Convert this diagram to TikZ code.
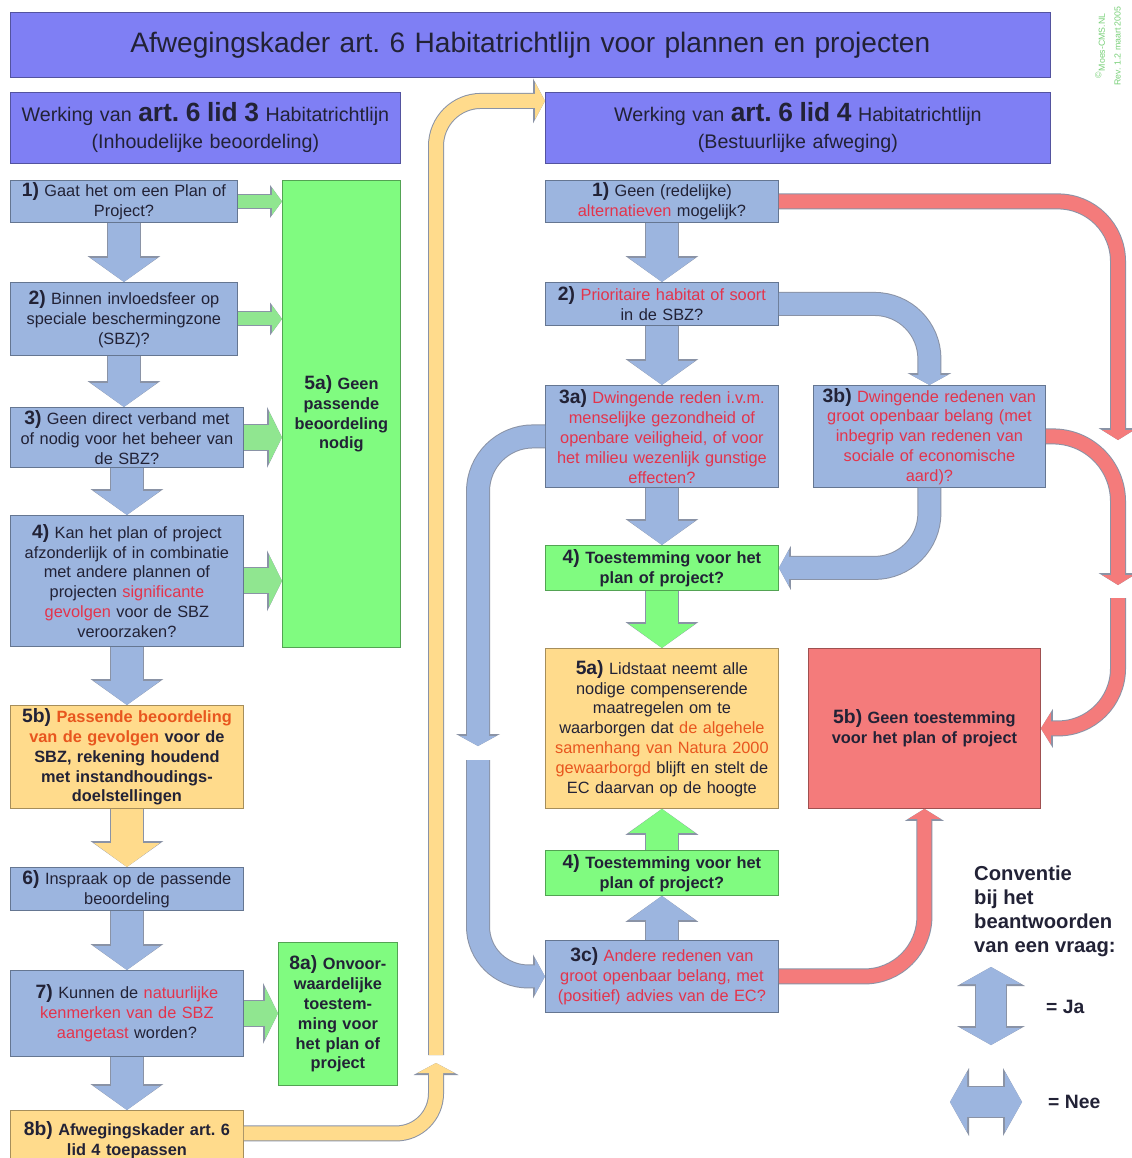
\documentclass[tikz,border=0pt]{standalone}
\usepackage{fontspec}
\setmainfont{Liberation Sans}
\usetikzlibrary{arrows.meta,calc,positioning}
\frenchspacing
\definecolor{Paars}{HTML}{7F7FF4}
\definecolor{Blauw}{HTML}{9CB5DF}
\definecolor{Groen}{HTML}{80FB80}
\definecolor{GroenPijl}{HTML}{90E690}
\definecolor{Geel}{HTML}{FFDB8C}
\definecolor{Rood}{HTML}{F47B7B}
\definecolor{Inkt}{HTML}{222236}
\definecolor{Warn}{HTML}{E3344C}
\definecolor{Oranje}{HTML}{E8561E}
\definecolor{Rand}{HTML}{8A93A6}
\definecolor{Stempel}{HTML}{78D078}
\newcommand{\stap}[1]{{\fontsize{11}{11}\selectfont\bfseries #1}}
\newcommand{\artlid}[1]{{\fontsize{15}{15}\selectfont\bfseries art. 6 lid #1}}
\newcommand{\rd}[1]{\textcolor{Warn}{#1}}
\newcommand{\oranje}[1]{\textcolor{Oranje}{#1}}

\begin{document}
\begin{tikzpicture}[
    x=0.02cm, y=-0.02cm,
    box/.style={
      draw=#1!65!black, fill=#1, line width=0.5pt, anchor=north west,
      inner xsep=0pt, inner ysep=1pt, align=center, text=Inkt,
      font=\fontsize{9.3}{11.3}\selectfont
    },
    wh/.style 2 args={text width=#1, minimum height=#2},
    pijl/.style={
      draw=#1, line width=0.64cm,
      preaction={draw=Rand, line width=0.68cm,
        -{Triangle[length=0.52cm,width=1.46cm,line width=0pt]}},
      -{Triangle[length=0.48cm,width=1.32cm,line width=0pt]}
    },
    zij/.style={
      draw=GroenPijl, line width=0.26cm,
      preaction={draw=Rand, line width=0.3cm,
        -{Triangle[length=0.24cm,width=0.66cm,line width=0pt]}},
      -{Triangle[length=0.2cm,width=0.54cm,line width=0pt]}
    },
    zijbreed/.style={
      draw=GroenPijl, line width=0.5cm,
      preaction={draw=Rand, line width=0.54cm,
        -{Triangle[length=0.3cm,width=1.22cm,line width=0pt]}},
      -{Triangle[length=0.26cm,width=1.04cm,line width=0pt]}
    },
    blauwbuis/.style={
      draw=Blauw, line width=0.44cm, rounded corners=1.1cm,
      preaction={draw=Rand, line width=0.48cm,
        -{Triangle[length=0.24cm,width=0.88cm,line width=0pt]}},
      -{Triangle[length=0.2cm,width=0.72cm,line width=0pt]}
    },
    roodbuis/.style={
      draw=Rood, line width=0.28cm, rounded corners=1.2cm,
      preaction={draw=Rand, line width=0.32cm,
        -{Triangle[length=0.24cm,width=0.78cm,line width=0pt]}},
      -{Triangle[length=0.2cm,width=0.64cm,line width=0pt]}
    },
    geelbuis/.style={
      draw=Geel, line width=0.28cm, rounded corners=0.8cm,
      preaction={draw=Rand, line width=0.32cm,
        -{Triangle[length=0.24cm,width=0.9cm,line width=0pt]}},
      -{Triangle[length=0.2cm,width=0.74cm,line width=0pt]}
    },
    dubbel/.style={
      draw=Blauw, line width=0.6cm,
      preaction={draw=Rand, line width=0.64cm,
        {Triangle[length=0.38cm,width=1.36cm,line width=0pt]}-{Triangle[length=0.38cm,width=1.36cm,line width=0pt]}},
      {Triangle[length=0.34cm,width=1.2cm,line width=0pt]}-{Triangle[length=0.34cm,width=1.2cm,line width=0pt]}
    }
  ]
  \fill[white] (0,0) rectangle (1131,1158);
  \useasboundingbox (0,0) rectangle (1131,1158);

  \node[box=Paars, wh={20.8cm}{1.3cm}, font=\fontsize{16}{18}\selectfont] (titel) at (10,12)
    {Afwegingskader art. 6 Habitatrichtlijn voor plannen en projecten};
  \node[rotate=90, text=Stempel, align=center, font=\fontsize{5}{9}\selectfont] (stempel) at (1108,46)
    {\textsuperscript{©}Moes-CMS.NL\\Rev. 1.2 maart 2005};

  \node[box=Paars, wh={7.8cm}{1.42cm}, font=\fontsize{11.2}{15.3}\selectfont] (kopL) at (10,92)
    {Werking van \artlid{3} Habitatrichtlijn\\(Inhoudelijke beoordeling)};
  \node[box=Paars, wh={10.1cm}{1.42cm}, font=\fontsize{11.2}{15.3}\selectfont] (kopR) at (545,92)
    {Werking van \artlid{4} Habitatrichtlijn\\(Bestuurlijke afweging)};

  \node[box=Blauw, wh={4.54cm}{0.84cm}] (l1) at (10,180)
    {\stap{1)} Gaat het om een Plan of\\Project?};
  \node[box=Blauw, wh={4.54cm}{1.46cm}] (l2) at (10,282)
    {\stap{2)} Binnen invloedsfeer op\\speciale beschermingzone\\(SBZ)?};
  \node[box=Blauw, wh={4.66cm}{1.2cm}] (l3) at (10,407)
    {\stap{3)} Geen direct verband met\\of nodig voor het beheer van\\de SBZ?};
  \node[box=Blauw, wh={4.66cm}{2.62cm}] (l4) at (10,515)
    {\stap{4)} Kan het plan of project\\afzonderlijk of in combinatie\\met andere plannen of\\projecten \rd{significante}\\\rd{gevolgen} voor de SBZ\\veroorzaken?};
  \node[box=Geel, wh={4.66cm}{2.06cm}, font=\fontsize{9.3}{11.3}\selectfont\bfseries] (l5b) at (10,705)
    {\stap{5b)} \oranje{Passende beoordeling}\\\oranje{van de gevolgen} voor de\\SBZ, rekening houdend\\met instandhoudings-\\doelstellingen};
  \node[box=Blauw, wh={4.66cm}{0.86cm}] (l6) at (10,867)
    {\stap{6)} Inspraak op de passende\\beoordeling};
  \node[box=Blauw, wh={4.66cm}{1.72cm}] (l7) at (10,970)
    {\stap{7)} Kunnen de \rd{natuurlijke}\\\rd{kenmerken van de SBZ}\\\rd{aangetast} worden?};
  \node[box=Geel, wh={4.66cm}{1.2cm}, font=\fontsize{9.3}{11.3}\selectfont\bfseries] (l8b) at (10,1110)
    {\stap{8b)} Afwegingskader art. 6\\lid 4 toepassen};
  \node[box=Groen, wh={2.36cm}{9.34cm}, font=\fontsize{9.3}{11.3}\selectfont\bfseries] (l5a) at (282,180)
    {\stap{5a)} Geen\\passende\\beoordeling\\nodig};
  \node[box=Groen, wh={2.38cm}{2.86cm}, font=\fontsize{9.3}{11.3}\selectfont\bfseries] (l8a) at (278,942)
    {\stap{8a)} Onvoor-\\waardelijke\\toestem-\\ming voor\\het plan of\\project};

  \node[box=Blauw, wh={4.66cm}{0.84cm}] (r1) at (545,180)
    {\stap{1)} Geen (redelijke)\\\rd{alternatieven} mogelijk?};
  \node[box=Blauw, wh={4.66cm}{0.86cm}] (r2) at (545,282)
    {\stap{2)} \rd{Prioritaire habitat of soort}\\in de SBZ?};
  \node[box=Blauw, wh={4.66cm}{2.04cm}] (r3a) at (545,385)
    {\stap{3a)} \rd{Dwingende reden i.v.m.}\\\rd{menselijke gezondheid of}\\\rd{openbare veiligheid, of voor}\\\rd{het milieu wezenlijk gunstige}\\\rd{effecten?}};
  \node[box=Blauw, wh={4.64cm}{2.04cm}] (r3b) at (813,385)
    {\stap{3b)} \rd{Dwingende redenen van}\\\rd{groot openbaar belang (met}\\\rd{inbegrip van redenen van}\\\rd{sociale of economische}\\\rd{aard)?}};
  \node[box=Groen, wh={4.66cm}{0.9cm}, font=\fontsize{9.3}{11.3}\selectfont\bfseries] (r4a) at (545,545)
    {\stap{4)} Toestemming voor het\\plan of project?};
  \node[box=Geel, wh={4.66cm}{3.2cm}] (r5a) at (545,648)
    {\stap{5a)} Lidstaat neemt alle\\nodige compenserende\\maatregelen om te\\waarborgen dat \oranje{de algehele}\\\oranje{samenhang van Natura 2000}\\\oranje{gewaarborgd} blijft en stelt de\\EC daarvan op de hoogte};
  \node[box=Rood, wh={4.64cm}{3.2cm}, font=\fontsize{9.3}{11.3}\selectfont\bfseries] (r5b) at (808,648)
    {\stap{5b)} Geen toestemming\\voor het plan of project};
  \node[box=Groen, wh={4.66cm}{0.9cm}, font=\fontsize{9.3}{11.3}\selectfont\bfseries] (r4b) at (545,850)
    {\stap{4)} Toestemming voor het\\plan of project?};
  \node[box=Blauw, wh={4.66cm}{1.44cm}] (r3c) at (545,940)
    {\stap{3c)} \rd{Andere redenen van}\\\rd{groot openbaar belang, met}\\\rd{(positief) advies van de EC?}};

  \node[anchor=north west, align=left, text=Inkt, font=\fontsize{11.5}{13.6}\selectfont\bfseries] (conventie) at (968,860)
    {Conventie\\bij het\\beantwoorden\\van een vraag:};
  \node[anchor=west, text=Inkt, font=\fontsize{11}{13}\selectfont\bfseries] (ja) at (1040,1007) {= Ja};
  \node[anchor=west, text=Inkt, font=\fontsize{11}{13}\selectfont\bfseries] (nee) at (1042,1102) {= Nee};

  \coordinate (geelA) at (436,1063);
  \coordinate (geelB) at (436,1055);
  \coordinate (blauwA) at (478,746);
  \coordinate (blauwB) at (478,760);
  \coordinate (roodA) at (1118,440);
  \coordinate (roodB) at (1118,585);
  \coordinate (roodC) at (1118,598);
  \coordinate (ja1) at (991,967);
  \coordinate (ja2) at (991,1045);
  \coordinate (nee1) at (950,1102);
  \coordinate (nee2) at (1022,1102);

  \draw[pijl=Blauw] (l1.south) -- (l2.north);
  \draw[pijl=Blauw] (l2.south) -- (l2.south |- l3.north);
  \draw[pijl=Blauw] (l3.south) -- (l4.north);
  \draw[pijl=Blauw] (l4.south) -- (l5b.north);
  \draw[pijl=Geel] (l5b.south) -- (l6.north);
  \draw[pijl=Blauw] (l6.south) -- (l7.north);
  \draw[pijl=Blauw] (l7.south) -- (l8b.north);
  \draw[zij] (l1.east) -- (l1.east -| l5a.west);
  \draw[zij] (l2.east) -- (l2.east -| l5a.west);
  \draw[zijbreed] (l3.east) -- (l3.east -| l5a.west);
  \draw[zijbreed] (l4.east) -- (l4.east -| l5a.west);
  \draw[zijbreed] (l7.east) -- (l7.east -| l8a.west);
  \draw[geelbuis] ([yshift=0.14cm]l8b.east) -| (geelA);
  \draw[geelbuis, rounded corners=0.9cm] (geelB) |- ([yshift=0.54cm]kopR.west);

  \draw[pijl=Blauw] (r1.south) -- (r2.north);
  \draw[pijl=Blauw] (r2.south) -- (r3a.north);
  \draw[pijl=Blauw] (r3a.south) -- (r4a.north);
  \draw[pijl=Groen] (r4a.south) -- (r5a.north);
  \draw[pijl=Groen] (r4b.north) -- (r5a.south);
  \draw[pijl=Blauw] (r3c.north) -- (r4b.south);
  \draw[blauwbuis] (r2.east) -| (r3b.north);
  \draw[blauwbuis] (r3b.south) |- (r4a.east);
  \draw[blauwbuis] (r3a.west) -| (blauwA);
  \draw[blauwbuis, rounded corners=1cm] (blauwB) |- (r3c.west);
  \draw[roodbuis] (r1.east) -| (roodA);
  \draw[roodbuis, rounded corners=1.3cm] (r3b.east) -| (roodB);
  \draw[roodbuis] (roodC) |- (r5b.east);
  \draw[roodbuis] (r3c.east) -| (r5b.south);

  \draw[dubbel] (ja1) -- (ja2);
  \draw[dubbel] (nee1) -- (nee2);
\end{tikzpicture}
\end{document}
